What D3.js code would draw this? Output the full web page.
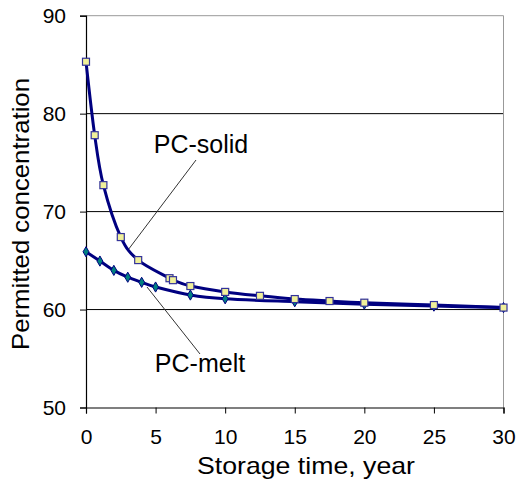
<!DOCTYPE html>
<html><head><meta charset="utf-8">
<script src="https://cdn.jsdelivr.net/npm/d3@7"></script>
<style>body{margin:0;background:#fff}svg{display:block}text{font-family:Arial,"Liberation Sans",sans-serif;fill:#000}</style>
</head><body>
<script>
const solidX = [0, 0.625, 1.25, 2.5, 3.75, 6, 6.25, 7.5, 10, 12.5, 15, 17.5, 20, 25, 30];
const solidY = [85.3, 77.8, 72.7, 67.4, 65.05, 63.2, 63.0, 62.4, 61.8, 61.4, 61.07, 60.87, 60.7, 60.46, 60.2];
const meltX = [0, 1, 2, 3, 4, 5, 7.5, 10, 15, 20, 25, 30];
const meltY = [65.9, 64.95, 64.0, 63.3, 62.78, 62.3, 61.48, 61.1, 60.8, 60.55, 60.35, 60.2];
const xTicks = [0, 5, 10, 15, 20, 25, 30];
const yTicks = [50, 60, 70, 80, 90];
const xTitle = "Storage time, year";
const yTitle = "Permitted concentration";
const labels = [
  {text: "PC-solid", tx: 201, ty: 153, x1: 196, y1: 160, x2: 128, y2: 250},
  {text: "PC-melt", tx: 200, ty: 372, x1: 147, y1: 287, x2: 200, y2: 354}
];

const W = 517, H = 484;
const svg = d3.select("body").append("svg").attr("width", W).attr("height", H);
const x = d3.scaleLinear().domain([0, 30]).range([86, 503.5]);
const y = d3.scaleLinear().domain([50, 90]).range([407.5, 15.7]);

// gridlines
svg.append("g").selectAll("line").data(yTicks.filter(d => d > 50 && d < 90)).join("line")
  .attr("x1", x(0)).attr("x2", x(30)).attr("y1", d => y(d)).attr("y2", d => y(d))
  .attr("stroke", "#000").attr("stroke-width", 1);
// top & right border
svg.append("line").attr("x1", x(0)).attr("x2", x(30)).attr("y1", y(90)).attr("y2", y(90)).attr("stroke", "#999");
svg.append("line").attr("x1", x(30)).attr("x2", x(30)).attr("y1", y(90)).attr("y2", y(50)).attr("stroke", "#999");

// axes
const xAxis = svg.append("g").attr("transform", `translate(0,${y(50)})`)
  .call(d3.axisBottom(x).tickValues(xTicks).tickSize(6).tickPadding(16).tickFormat(d3.format("d")));
const yAxis = svg.append("g").attr("transform", `translate(${x(0)},0)`)
  .call(d3.axisLeft(y).tickValues(yTicks).tickSize(6).tickPadding(14).tickFormat(d3.format("d")));
[xAxis, yAxis].forEach(g => {
  g.select(".domain").attr("stroke", "#000").attr("stroke-width", 1.2);
  g.selectAll(".tick line").attr("stroke", "#000");
  g.selectAll("text").style("font-size", "21px").attr("fill", "#000");
});

// leader lines
svg.append("g").selectAll("line").data(labels).join("line")
  .attr("x1", d => d.x1).attr("y1", d => d.y1).attr("x2", d => d.x2).attr("y2", d => d.y2)
  .attr("stroke", "#333").attr("stroke-width", 1);

const line = d3.line().x(d => x(d[0])).y(d => y(d[1])).curve(d3.curveCardinal.tension(0));
const solid = solidX.map((v, i) => [v, solidY[i]]);
const melt = meltX.map((v, i) => [v, meltY[i]]);

svg.append("path").datum(melt).attr("d", line).attr("fill", "none").attr("stroke", "#000080").attr("stroke-width", 3);
svg.append("path").datum(solid).attr("d", line).attr("fill", "none").attr("stroke", "#000080").attr("stroke-width", 3);

svg.append("g").selectAll("path").data(melt).join("path")
  .attr("d", d3.symbol(d3.symbolDiamond, 30))
  .attr("transform", d => `translate(${x(d[0])},${y(d[1])})`)
  .attr("fill", "#008080").attr("stroke", "#000080").attr("stroke-width", 1);
svg.append("g").selectAll("rect").data(solid).join("rect")
  .attr("x", d => x(d[0]) - 3.5).attr("y", d => y(d[1]) - 3.5)
  .attr("width", 7).attr("height", 7)
  .attr("fill", "#f0f09a").attr("stroke", "#333399").attr("stroke-width", 1.2);

// label texts
svg.append("g").selectAll("text").data(labels).join("text")
  .attr("x", d => d.tx).attr("y", d => d.ty).attr("text-anchor", "middle")
  .style("font-size", "25px").text(d => d.text);

// titles
svg.append("text").attr("x", 306).attr("y", 474).attr("text-anchor", "middle")
  .style("font-size", "24px").attr("textLength", 218).attr("lengthAdjust", "spacingAndGlyphs").text(xTitle);
svg.append("text").attr("transform", "translate(29,214) rotate(-90)").attr("text-anchor", "middle")
  .style("font-size", "24px").attr("textLength", 272).attr("lengthAdjust", "spacingAndGlyphs").text(yTitle);
</script>
</body></html>
